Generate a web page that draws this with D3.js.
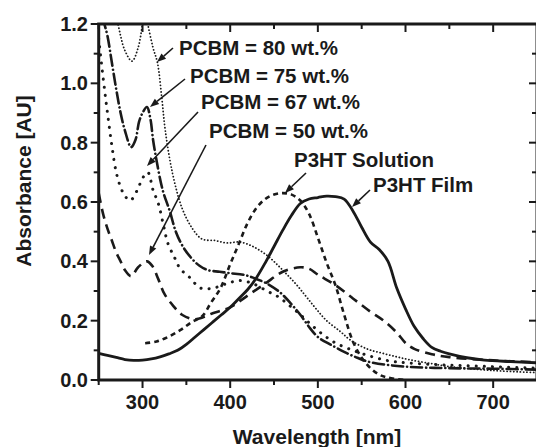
<!DOCTYPE html>
<html>
<head>
<meta charset="utf-8">
<script src="https://cdn.jsdelivr.net/npm/d3@7"></script>
<style>
  body { margin: 0; background: #fff; }
  svg text { font-family: "Liberation Sans", Arial, sans-serif; font-weight: bold; fill: #1a1a1a; }
</style>
</head>
<body>
<svg id="chart" width="536" height="447"></svg>
<script>
'use strict';

// absorbance spectra, [wavelength nm, absorbance AU]
var film = [[250,0.09],[260,0.083],[270,0.076],[280,0.069],[290,0.066],[300,0.067],[310,0.071],[320,0.078],
  [330,0.088],[340,0.1],[350,0.12],[360,0.145],[370,0.17],[380,0.195],[390,0.22],[400,0.245],[410,0.275],
  [420,0.305],[430,0.345],[440,0.395],[450,0.45],[460,0.505],[470,0.555],[480,0.595],[490,0.61],[500,0.615],
  [510,0.62],[520,0.618],[530,0.61],[540,0.57],[550,0.515],[560,0.465],[570,0.44],[580,0.4],[590,0.31],
  [600,0.24],[610,0.18],[620,0.14],[630,0.11],[640,0.097],[650,0.088],[670,0.075],[690,0.067],[720,0.062],[750,0.058]];

var solution = [[303,0.124],[316,0.13],[329,0.145],[343,0.168],[356,0.195],[368,0.215],[378,0.26],[389,0.31],
  [400,0.39],[410,0.46],[420,0.53],[430,0.58],[440,0.61],[450,0.625],[460,0.63],[470,0.625],[480,0.605],
  [490,0.56],[500,0.48],[510,0.395],[520,0.32],[530,0.22],[540,0.13],[550,0.075],[560,0.04],[570,0.018],
  [580,0.008],[600,0.0]];

var pcbm50 = [[250,0.63],[255,0.56],[260,0.51],[265,0.47],[270,0.43],[275,0.4],[280,0.37],[287,0.35],
  [295,0.38],[305,0.4],[311,0.385],[318,0.34],[325,0.29],[335,0.25],[345,0.22],[360,0.205],[380,0.225],
  [400,0.245],[420,0.285],[440,0.325],[460,0.365],[480,0.38],[490,0.375],[500,0.355],[520,0.32],[540,0.275],
  [560,0.23],[575,0.2],[590,0.16],[600,0.125],[610,0.105],[630,0.087],[650,0.077],[700,0.066],[750,0.06]];

var pcbm67 = [[250,1.15],[255,1.02],[260,0.9],[265,0.79],[270,0.7],[275,0.65],[280,0.62],[286,0.605],
  [294,0.64],[300,0.68],[306,0.7],[312,0.64],[318,0.595],[324,0.52],[329,0.46],[337,0.41],[343,0.375],
  [354,0.345],[366,0.31],[381,0.31],[396,0.325],[411,0.335],[426,0.325],[442,0.3],[455,0.28],[468,0.25],
  [480,0.22],[491,0.19],[505,0.155],[520,0.125],[540,0.1],[560,0.08],[580,0.065],[600,0.058],[650,0.05],
  [700,0.045],[750,0.04]];

var pcbm75 = [[250,1.35],[255,1.22],[260,1.16],[265,1.07],[270,0.98],[275,0.9],[280,0.84],[287,0.785],
  [292,0.81],[296,0.87],[300,0.9],[305,0.92],[309,0.88],[312,0.81],[316,0.74],[323,0.64],[331,0.57],
  [338,0.5],[346,0.45],[356,0.41],[365,0.385],[375,0.37],[388,0.365],[400,0.36],[415,0.355],[426,0.345],
  [442,0.325],[457,0.295],[470,0.255],[480,0.22],[491,0.175],[500,0.145],[514,0.12],[530,0.095],
  [545,0.075],[560,0.06],[600,0.045],[650,0.04],[700,0.038],[750,0.035]];

var pcbm80 = [[262,1.35],[272,1.2],[280,1.11],[288,1.075],[295,1.12],[300,1.2],[303,1.25],[306,1.2],
  [312,1.12],[317,1.07],[322,0.95],[326,0.84],[334,0.7],[345,0.58],[357,0.51],[368,0.475],[383,0.47],
  [396,0.462],[411,0.465],[426,0.45],[442,0.42],[455,0.385],[465,0.355],[476,0.32],[487,0.28],[498,0.24],
  [510,0.2],[525,0.165],[537,0.135],[556,0.105],[574,0.09],[590,0.078],[605,0.068],[630,0.055],
  [650,0.045],[700,0.032],[750,0.025]];

var xTicks = [300, 400, 500, 600, 700];
var yTicks = [0.0, 0.2, 0.4, 0.6, 0.8, 1.0, 1.2];

var svg = d3.select('#chart');
var plotLeft = 98.7, plotRight = 537, plotTop = 24, plotBottom = 380;

var x = d3.scaleLinear().domain([250, 750]).range([plotLeft, plotRight]);
var y = d3.scaleLinear().domain([0, 1.2]).range([plotBottom, plotTop]);

svg.append('clipPath').attr('id', 'plot')
  .append('rect')
  .attr('x', plotLeft).attr('y', plotTop)
  .attr('width', plotRight - plotLeft).attr('height', plotBottom - plotTop);

var line = d3.line()
  .x(function(d) { return x(d[0]); })
  .y(function(d) { return y(d[1]); })
  .curve(d3.curveCatmullRom);

var series = [
  { data: pcbm80, width: 1.8, dash: '0.1 3.2', cap: 'round' },
  { data: pcbm75, width: 2.6, dash: '11 4 0.1 4', cap: 'round' },
  { data: pcbm67, width: 3, dash: '0.1 8', cap: 'round' },
  { data: pcbm50, width: 2.6, dash: '10 6', cap: 'butt' },
  { data: solution, width: 2.6, dash: '5 4', cap: 'butt' },
  { data: film, width: 2.8, dash: null, cap: 'round' }
];

var g = svg.append('g').attr('clip-path', 'url(#plot)');
g.selectAll('path')
  .data(series)
  .enter()
  .append('path')
  .attr('d', function(d) { return line(d.data); })
  .attr('fill', 'none')
  .attr('stroke', '#1a1a1a')
  .attr('stroke-width', function(d) { return d.width; })
  .attr('stroke-dasharray', function(d) { return d.dash; })
  .attr('stroke-linecap', function(d) { return d.cap; })
  .attr('stroke-linejoin', 'round');

// axes
var minorX = d3.range(250, 751, 50);
var minorY = d3.range(0, 1.21, 0.1);

function isMajorX(v) { return xTicks.indexOf(v) >= 0; }
function isMajorY(v) { return Math.abs(Math.round(v * 10) % 2) === 0; }

var axes = svg.append('g').attr('stroke', '#1a1a1a');

// bottom, ticks out
axes.selectAll('.tb').data(minorX).enter().append('line')
  .attr('x1', function(d) { return x(d); }).attr('x2', function(d) { return x(d); })
  .attr('y1', plotBottom).attr('y2', function(d) { return plotBottom + (isMajorX(d) ? 8 : 5); })
  .attr('stroke-width', 2);
// top, ticks in
axes.selectAll('.tt').data(minorX).enter().append('line')
  .attr('x1', function(d) { return x(d); }).attr('x2', function(d) { return x(d); })
  .attr('y1', plotTop).attr('y2', function(d) { return plotTop + (isMajorX(d) ? 8 : 5); })
  .attr('stroke-width', 2);
// left, ticks out
axes.selectAll('.tl').data(minorY).enter().append('line')
  .attr('y1', function(d) { return y(d); }).attr('y2', function(d) { return y(d); })
  .attr('x1', plotLeft).attr('x2', function(d) { return plotLeft - (isMajorY(d) ? 8 : 5); })
  .attr('stroke-width', 2);
// right, ticks in
axes.selectAll('.tr').data(minorY).enter().append('line')
  .attr('y1', function(d) { return y(d); }).attr('y2', function(d) { return y(d); })
  .attr('x1', plotRight).attr('x2', function(d) { return plotRight - (isMajorY(d) ? 8 : 5); })
  .attr('stroke-width', 2);

axes.append('rect')
  .attr('x', plotLeft).attr('y', plotTop)
  .attr('width', plotRight - plotLeft).attr('height', plotBottom - plotTop)
  .attr('fill', 'none')
  .attr('stroke-width', 3);

svg.selectAll('.xl').data(xTicks).enter().append('text')
  .attr('x', function(d) { return x(d); })
  .attr('y', 409)
  .attr('text-anchor', 'middle')
  .attr('font-size', '20px')
  .text(function(d) { return d; });

svg.selectAll('.yl').data(yTicks).enter().append('text')
  .attr('x', 88)
  .attr('y', function(d) { return y(d) + 7; })
  .attr('text-anchor', 'end')
  .attr('font-size', '20px')
  .text(function(d) { return d3.format('.1f')(d); });

svg.append('text')
  .attr('x', 317).attr('y', 444)
  .attr('text-anchor', 'middle')
  .attr('font-size', '21px')
  .text('Wavelength [nm]');

svg.append('text')
  .attr('transform', 'translate(31,181) rotate(-90)')
  .attr('text-anchor', 'middle')
  .attr('font-size', '21px')
  .text('Absorbance [AU]');

// annotations with arrows
var labels = [
  { text: 'PCBM = 80 wt.%', tx: 179, ty: 55, from: [173, 48], to: [157, 62] },
  { text: 'PCBM = 75 wt.%', tx: 190, ty: 83, from: [185, 79], to: [150, 107] },
  { text: 'PCBM = 67 wt.%', tx: 201, ty: 109, from: [198, 112], to: [147, 166] },
  { text: 'PCBM = 50 wt.%', tx: 209, ty: 138, from: [206, 145], to: [149, 255] },
  { text: 'P3HT Solution', tx: 294, ty: 167, from: [306, 173], to: [285, 193] },
  { text: 'P3HT Film', tx: 373, ty: 192, from: [370, 190], to: [352, 207] }
];

var ann = svg.append('g');
labels.forEach(function(d) {
  ann.append('text')
    .attr('x', d.tx).attr('y', d.ty)
    .attr('font-size', '20.5px')
    .text(d.text);
  var dx = d.to[0] - d.from[0], dy = d.to[1] - d.from[1];
  var len = Math.sqrt(dx * dx + dy * dy);
  var ux = dx / len, uy = dy / len;
  var hl = 9, hw = 3.5;
  var bx = d.to[0] - ux * hl, by = d.to[1] - uy * hl;
  ann.append('line')
    .attr('x1', d.from[0]).attr('y1', d.from[1])
    .attr('x2', bx).attr('y2', by)
    .attr('stroke', '#1a1a1a').attr('stroke-width', 1.6);
  ann.append('path')
    .attr('d', 'M' + d.to[0] + ',' + d.to[1] +
      'L' + (bx - uy * hw) + ',' + (by + ux * hw) +
      'L' + (bx + uy * hw) + ',' + (by - ux * hw) + 'Z')
    .attr('fill', '#1a1a1a');
});
</script>
</body>
</html>
